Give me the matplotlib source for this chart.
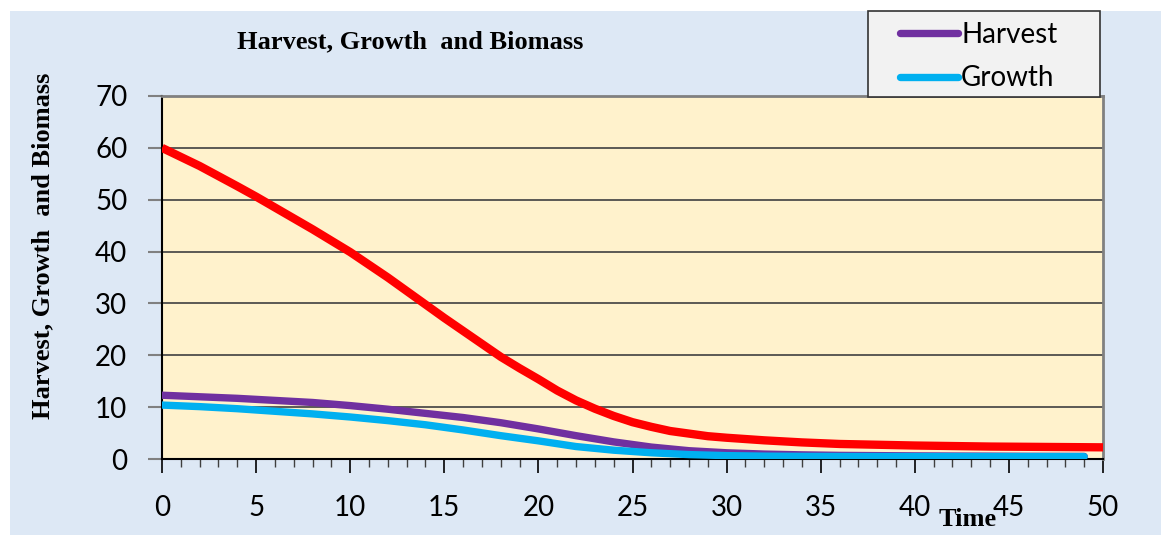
import numpy as np
import matplotlib.pyplot as plt
from matplotlib.patches import Rectangle
from matplotlib.ticker import MultipleLocator

# values
time_red = [0, 2, 4, 5, 6, 8, 10, 12, 14, 15, 16, 17, 18, 19, 20, 21, 22,
            23, 24, 25, 26, 27, 28, 29, 30, 32, 34, 36, 38, 40, 42, 44, 46,
            48, 50]
biomass = [60, 56.5, 52.6, 50.6, 48.5, 44.3, 39.9, 35.0, 29.8, 27.2, 24.7,
           22.2, 19.7, 17.5, 15.4, 13.2, 11.3, 9.7, 8.3, 7.1, 6.2, 5.4, 4.9,
           4.4, 4.1, 3.6, 3.2, 2.9, 2.75, 2.6, 2.5, 2.4, 2.35, 2.3, 2.25]

time_hg = [0, 2, 4, 6, 8, 10, 12, 14, 16, 18, 20, 22, 24, 26, 28, 30, 32,
           34, 36, 38, 40, 42, 44, 46, 49]
harvest = [12.3, 12.0, 11.7, 11.3, 10.9, 10.3, 9.6, 8.8, 8.0, 7.0, 5.8,
           4.5, 3.3, 2.3, 1.6, 1.2, 0.95, 0.8, 0.7, 0.65, 0.6, 0.57, 0.55,
           0.52, 0.5]
growth = [10.4, 10.1, 9.7, 9.2, 8.7, 8.1, 7.4, 6.6, 5.6, 4.5, 3.5, 2.4,
          1.7, 1.2, 0.85, 0.65, 0.55, 0.5, 0.48, 0.47, 0.46, 0.46, 0.45,
          0.45, 0.45]

series_labels = ["Harvest", "Growth"]
title_text = "Harvest, Growth  and Biomass"

W, H = 1161, 535
fig = plt.figure(figsize=(W / 100, H / 100), dpi=100)
fig.patch.set_facecolor("white")
fig.patches.append(Rectangle((10 / W, 0), 1 - 10 / W, 1 - 11 / H,
                             transform=fig.transFigure, facecolor="#DDE8F5",
                             edgecolor="none", zorder=-10))

ax = fig.add_axes([162 / W, 1 - 459 / H, (1103 - 162) / W, (459 - 96) / H])
ax.set_facecolor("#FFF2CC")

ax.plot(time_red, biomass, color="#FF0000", lw=6, solid_capstyle="butt",
        solid_joinstyle="round", zorder=4)
ax.plot(time_hg, harvest, color="#7030A0", lw=5.3, solid_capstyle="round",
        solid_joinstyle="round", label=series_labels[0], zorder=3)
ax.plot(time_hg, growth, color="#00B0F0", lw=5.3, solid_capstyle="round",
        solid_joinstyle="round", label=series_labels[1], zorder=3)

ax.set_xlim(0, 50)
ax.set_ylim(0, 70)
ax.xaxis.set_major_locator(MultipleLocator(5))
ax.xaxis.set_minor_locator(MultipleLocator(1))
ax.yaxis.set_major_locator(MultipleLocator(10))
ax.grid(axis="y", color="#404040", lw=1.2, zorder=1)
ax.set_axisbelow(True)

tick_font = "Lato"
ax.tick_params(axis="y", direction="out", length=10, width=1.5,
               color="#808080", pad=15, labelsize=20)
ax.tick_params(axis="x", which="major", direction="out", length=10,
               width=1.2, color="black", pad=16, labelsize=20)
ax.tick_params(axis="x", which="minor", direction="out", length=6,
               width=1.0, color="#404040")
for lab in ax.get_xticklabels() + ax.get_yticklabels():
    lab.set_fontfamily(tick_font)

ax.spines["left"].set_color("black")
ax.spines["left"].set_linewidth(1.5)
ax.spines["bottom"].set_color("black")
ax.spines["bottom"].set_linewidth(1.5)
for s in ["top", "right"]:
    ax.spines[s].set_color("#808080")
    ax.spines[s].set_linewidth(2)

fig.text(410 / W, 1 - 42 / H, title_text, ha="center", va="center",
         family="Liberation Serif", fontweight="bold", fontsize=19)
fig.text(43 / W, 1 - 246 / H, title_text, ha="center", va="center",
         rotation=90, family="Liberation Serif", fontweight="bold",
         fontsize=19)
fig.text(968 / W, 1 - 520 / H, "Time", ha="center", va="center",
         family="Liberation Serif", fontweight="bold", fontsize=19,
         zorder=6)

# legend box drawn by hand, entries placed inside it
fig.patches.append(Rectangle((868 / W, 1 - 97 / H), 232 / W, 86 / H,
                             transform=fig.transFigure, facecolor="#F2F2F2",
                             edgecolor="#333333", lw=1.2, zorder=5))
handles, labels = ax.get_legend_handles_labels()
leg = fig.legend(handles, labels, loc="upper left",
                 bbox_to_anchor=(900 / W, 1 - 22 / H), frameon=False,
                 handlelength=2.1, handletextpad=0.1, borderpad=0,
                 borderaxespad=0, labelspacing=0.62,
                 prop={"family": tick_font, "size": 20})
leg.set_zorder(6)

fig.savefig("out.png", dpi=100)
